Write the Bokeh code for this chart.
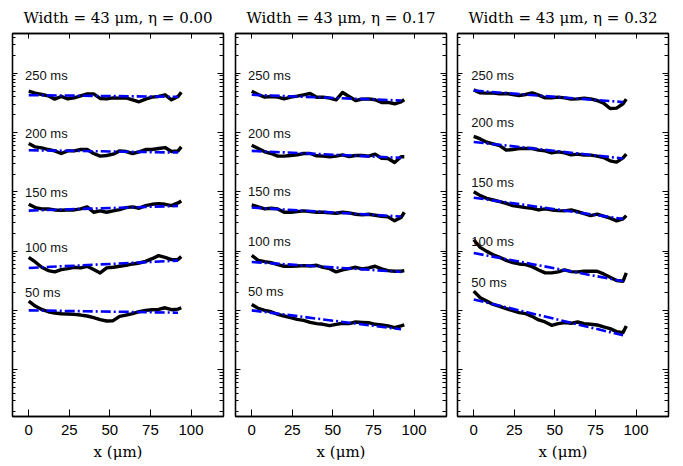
import numpy as np
from bokeh.plotting import figure
from bokeh.models import (LogAxis, LinearAxis, FixedTicker, LogTicker,
                          CustomJSTickFormatter, Range1d)
from bokeh.layouts import row
from bokeh.embed import file_html
from bokeh.resources import INLINE
from bokeh.core.properties import value

# ---------------- data ----------------
x_um = [0, 4, 8, 12, 16, 20, 24, 28, 32, 36, 40, 44, 48, 52, 56, 60, 64, 68,
        72, 76, 80, 84, 88, 92, 94]
fit_x = [0, 92]
times = ["250 ms", "200 ms", "150 ms", "100 ms", "50 ms"]
etas = ["0.00", "0.17", "0.32"]
x_ticks = [0, 25, 50, 75, 100]

# profiles, stored as log10 of the (offset) plotted value
eta000_250 = [4.698, 4.665, 4.642, 4.620, 4.564, 4.609, 4.569, 4.586, 4.620, 4.653, 4.653, 4.575, 4.569, 4.586, 4.581, 4.586, 4.553, 4.519, 4.564, 4.597, 4.609, 4.637, 4.553, 4.609, 4.681]
eta000_200 = [3.814, 3.758, 3.742, 3.714, 3.691, 3.647, 3.691, 3.691, 3.714, 3.714, 3.647, 3.602, 3.613, 3.636, 3.691, 3.680, 3.647, 3.675, 3.714, 3.714, 3.731, 3.747, 3.680, 3.691, 3.758]
eta000_150 = [2.790, 2.735, 2.712, 2.712, 2.695, 2.690, 2.695, 2.695, 2.712, 2.746, 2.656, 2.679, 2.656, 2.679, 2.701, 2.735, 2.746, 2.723, 2.768, 2.790, 2.802, 2.790, 2.768, 2.813, 2.846]
eta000_100 = [1.896, 1.817, 1.728, 1.672, 1.650, 1.689, 1.705, 1.728, 1.717, 1.745, 1.689, 1.633, 1.717, 1.728, 1.745, 1.761, 1.784, 1.800, 1.828, 1.873, 1.924, 1.896, 1.857, 1.862, 1.907]
eta000_050 = [1.157, 1.073, 1.017, 0.978, 0.956, 0.945, 0.939, 0.934, 0.922, 0.906, 0.878, 0.844, 0.822, 0.827, 0.900, 0.922, 0.945, 0.978, 1.001, 1.012, 1.017, 1.045, 1.012, 1.023, 1.045]

eta017_250 = [4.698, 4.642, 4.597, 4.609, 4.597, 4.569, 4.597, 4.614, 4.637, 4.659, 4.597, 4.597, 4.581, 4.553, 4.676, 4.609, 4.541, 4.564, 4.569, 4.553, 4.508, 4.508, 4.486, 4.519, 4.553]
eta017_200 = [3.786, 3.731, 3.675, 3.647, 3.602, 3.602, 3.613, 3.624, 3.647, 3.647, 3.608, 3.602, 3.591, 3.602, 3.624, 3.596, 3.613, 3.613, 3.602, 3.636, 3.568, 3.563, 3.496, 3.591, 3.591]
eta017_150 = [2.779, 2.746, 2.712, 2.723, 2.712, 2.656, 2.656, 2.667, 2.679, 2.667, 2.656, 2.656, 2.645, 2.639, 2.656, 2.645, 2.623, 2.611, 2.623, 2.606, 2.589, 2.578, 2.511, 2.567, 2.656]
eta017_100 = [1.929, 1.845, 1.823, 1.806, 1.773, 1.745, 1.745, 1.750, 1.756, 1.750, 1.761, 1.728, 1.705, 1.650, 1.683, 1.705, 1.728, 1.700, 1.717, 1.745, 1.700, 1.672, 1.661, 1.661, 1.672]
eta017_050 = [1.101, 1.034, 1.001, 0.978, 0.934, 0.906, 0.878, 0.850, 0.833, 0.799, 0.777, 0.766, 0.743, 0.766, 0.783, 0.777, 0.805, 0.799, 0.794, 0.766, 0.755, 0.738, 0.710, 0.738, 0.755]

eta032_250 = [4.720, 4.670, 4.665, 4.665, 4.653, 4.659, 4.642, 4.625, 4.642, 4.670, 4.631, 4.586, 4.586, 4.597, 4.586, 4.564, 4.569, 4.581, 4.569, 4.541, 4.497, 4.407, 4.413, 4.486, 4.564]
eta032_200 = [3.937, 3.893, 3.837, 3.809, 3.781, 3.703, 3.714, 3.731, 3.731, 3.731, 3.703, 3.691, 3.658, 3.675, 3.658, 3.624, 3.636, 3.619, 3.619, 3.602, 3.580, 3.524, 3.501, 3.574, 3.636]
eta032_150 = [3.003, 2.936, 2.891, 2.863, 2.835, 2.807, 2.768, 2.751, 2.735, 2.723, 2.695, 2.712, 2.695, 2.684, 2.679, 2.695, 2.667, 2.634, 2.600, 2.623, 2.589, 2.556, 2.511, 2.544, 2.600]
eta032_100 = [2.192, 2.063, 1.996, 1.940, 1.896, 1.845, 1.806, 1.784, 1.773, 1.739, 1.683, 1.633, 1.633, 1.650, 1.683, 1.655, 1.650, 1.661, 1.661, 1.661, 1.616, 1.560, 1.504, 1.493, 1.633]
eta032_050 = [1.325, 1.213, 1.157, 1.101, 1.068, 1.029, 0.995, 0.962, 0.945, 0.900, 0.839, 0.805, 0.749, 0.777, 0.794, 0.783, 0.805, 0.777, 0.766, 0.755, 0.721, 0.693, 0.643, 0.626, 0.738]

# linear fits (log10 value at fit_x ends)
fit_eta000 = [(4.631, 4.603), (3.703, 3.663), (2.684, 2.763), (1.717, 1.840), (1.001, 0.962)]
fit_eta017 = [(4.637, 4.541), (3.691, 3.574), (2.735, 2.584), (1.817, 1.650), (1.001, 0.682)]
fit_eta032 = [(4.709, 4.514), (3.842, 3.563), (2.902, 2.544), (1.968, 1.493), (1.185, 0.581)]

# time-label positions (x in um, log10 y)
label_x = [-2.3, -2.3, -1.5]
label_y_eta000 = [4.971, 3.982, 2.987, 2.064, 1.297]
label_y_eta017 = [4.971, 3.982, 3.003, 2.164, 1.314]
label_y_eta032 = [4.971, 4.166, 3.154, 2.164, 1.477]

panels = [
    ([eta000_250, eta000_200, eta000_150, eta000_100, eta000_050], fit_eta000, label_y_eta000),
    ([eta017_250, eta017_200, eta017_150, eta017_100, eta017_050], fit_eta017, label_y_eta017),
    ([eta032_250, eta032_200, eta032_150, eta032_100, eta032_050], fit_eta032, label_y_eta032),
]

Y_LO, Y_HI = 10 ** -0.789, 10 ** 5.671
blank = CustomJSTickFormatter(code="return ''")


def make_panel(i, width, bl, br):
    curves, fits, label_y = panels[i]
    p = figure(width=width, height=466, y_axis_type="log",
               x_range=Range1d(-10, 120), y_range=Range1d(Y_LO, Y_HI),
               output_backend="svg", toolbar_location=None,
               min_border_left=bl, min_border_right=br,
               min_border_top=31, min_border_bottom=50,
               title="Width = 43 \u03bcm, \u03b7 = " + etas[i])
    p.title.text_font = "DejaVu Serif"
    p.title.text_font_style = "normal"
    p.title.text_font_size = "15px"
    p.title.align = "center"
    p.title.text_color = "black"
    p.title.standoff = 13
    p.xgrid.visible = False
    p.ygrid.visible = False
    p.outline_line_color = "black"
    p.outline_line_width = 1.3
    p.background_fill_color = "white"
    p.border_fill_color = "white"

    # bottom axis
    xa = p.xaxis[0]
    xa.ticker = FixedTicker(ticks=x_ticks, minor_ticks=[])
    xa.major_tick_in = 7
    xa.major_tick_out = 0
    xa.axis_line_width = 1.3
    xa.major_label_text_font = "Liberation Sans"
    xa.major_label_text_font_size = "15px"
    xa.major_label_text_color = "black"
    xa.major_label_standoff = 8
    xa.axis_label = "x (\u03bcm)"
    xa.axis_label_text_font = "DejaVu Serif"
    xa.axis_label_text_font_style = "normal"
    xa.axis_label_text_font_size = "15px"
    xa.axis_label_text_color = "black"
    xa.axis_label_standoff = 5

    # top axis (ticks only)
    top = LinearAxis(ticker=FixedTicker(ticks=x_ticks, minor_ticks=[]),
                     formatter=blank, major_tick_in=5, major_tick_out=0,
                     major_label_standoff=0, axis_line_width=1.3)
    p.add_layout(top, "above")

    # left log axis
    ya = p.yaxis[0]
    ya.ticker = LogTicker(num_minor_ticks=10)
    ya.formatter = blank
    ya.major_tick_in = 5
    ya.major_tick_out = 0
    ya.minor_tick_in = 3
    ya.minor_tick_out = 0
    ya.major_label_standoff = 0
    ya.axis_line_width = 1.3

    right = LogAxis(ticker=LogTicker(num_minor_ticks=10), formatter=blank,
                    major_tick_in=6, major_tick_out=0, minor_tick_in=4,
                    minor_tick_out=0, major_label_standoff=0, axis_line_width=1.3)
    p.add_layout(right, "right")

    for c in curves:
        p.line(x_um, 10 ** np.array(c), line_color="black", line_width=3.4,
               line_join="round")
    for f in fits:
        p.line(fit_x, 10 ** np.array(f), line_color="#0000ff", line_width=2.6,
               line_dash="10 3 2 3")
    p.text(x=[label_x[i]] * len(times), y=10 ** np.array(label_y), text=times,
           text_font=value("Liberation Sans"), text_font_size="13px",
           text_baseline="middle", text_align="left", text_color="#111111")
    return p


p1 = make_panel(0, 229, 12, 6)
p2 = make_panel(1, 222, 6, 5)
p3 = make_panel(2, 232, 6, 15)
layout = row(p1, p2, p3)

open("out.html", "w").write(file_html(layout, INLINE))
